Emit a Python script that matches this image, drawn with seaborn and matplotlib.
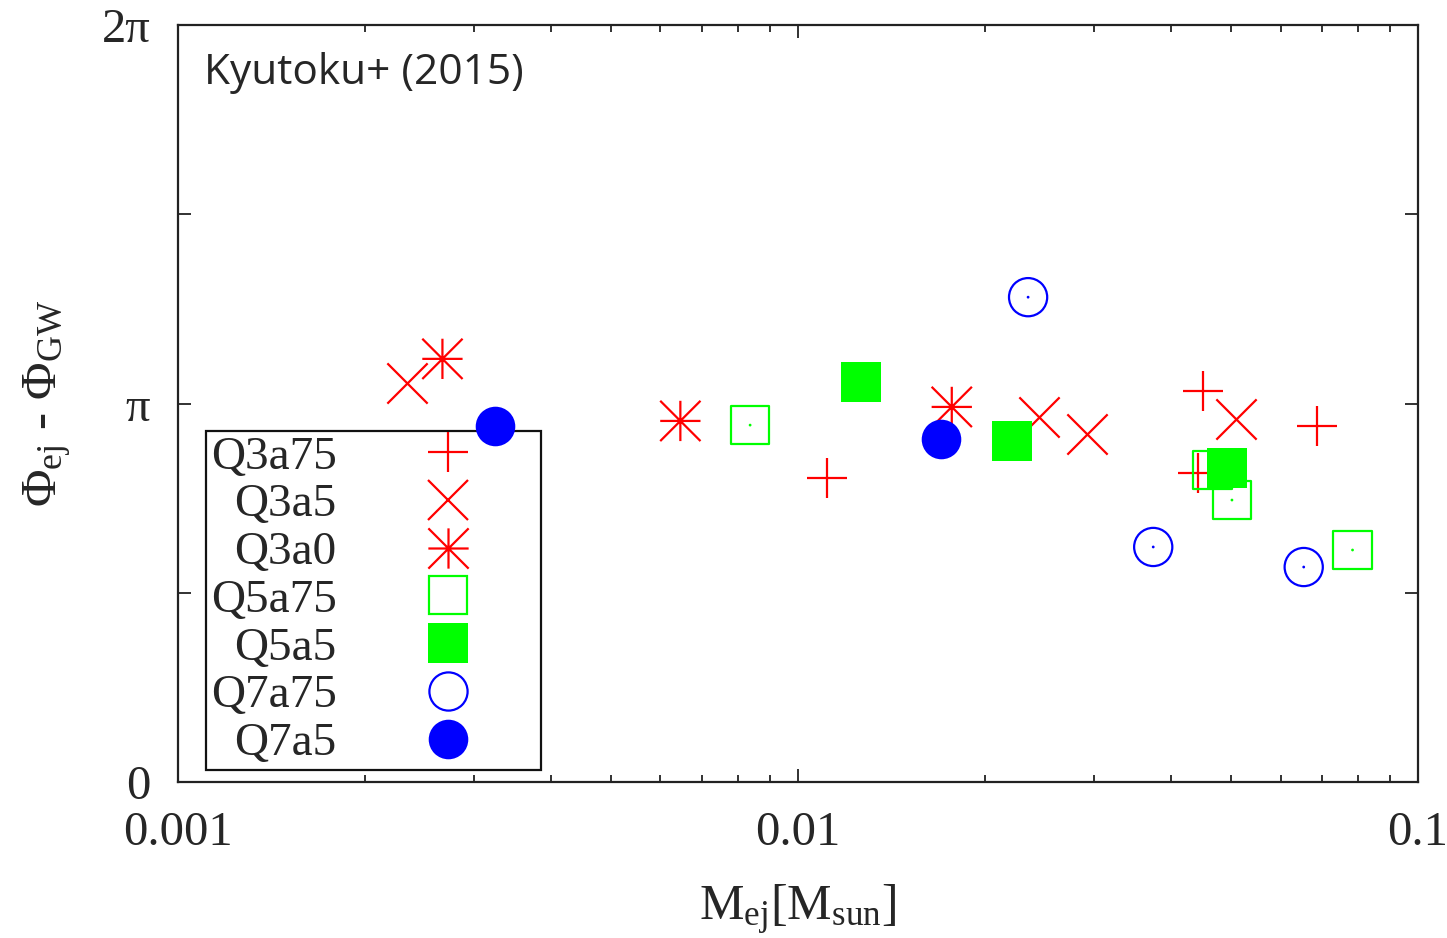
import numpy as np
import pandas as pd
import matplotlib
matplotlib.use("Agg")
import matplotlib.pyplot as plt
from matplotlib.path import Path
from matplotlib.lines import Line2D
from matplotlib.ticker import FixedLocator, LogLocator, NullFormatter, FixedFormatter
import seaborn as sns

# Ejecta mass [M_sun] and phase offset Phi_ej - Phi_GW (in units of pi) per model
q3a75_m = [0.0450, 0.0687, 0.0441, 0.01114]
q3a75_phi = [1.033, 0.941, 0.816, 0.803]
q3a5_m = [0.00234, 0.0508, 0.0245, 0.0292]
q3a5_phi = [1.054, 0.959, 0.964, 0.919]
q3a0_m = [0.00267, 0.00646, 0.0177]
q3a0_phi = [1.118, 0.954, 0.991]
q5a75_m = [0.00837, 0.0466, 0.0501, 0.0784]
q5a75_phi = [0.943, 0.824, 0.745, 0.613]
q5a5_m = [0.01265, 0.0221, 0.0492]
q5a5_phi = [1.057, 0.901, 0.830]
q7a75_m = [0.0235, 0.0374, 0.0654]
q7a75_phi = [1.281, 0.621, 0.568]
q7a5_m = [0.00324, 0.0170]
q7a5_phi = [0.941, 0.906]

labels = ["Q3a75", "Q3a5", "Q3a0", "Q5a75", "Q5a5", "Q7a75", "Q7a5"]
x_ticks = [0.001, 0.01, 0.1]
x_ticklabels = ["0.001", "0.01", "0.1"]
y_ticklabels = ["0", "", "\u03c0", "", "2\u03c0"]

RED, GREEN, BLUE = "#ff0000", "#00ff00", "#0000ff"

# gnuplot-style asterisk: a plus sign overlaid with a cross
asterisk = Path(
    [(-1, 0), (1, 0), (0, -1), (0, 1), (-1, -1), (1, 1), (-1, 1), (1, -1)],
    [Path.MOVETO, Path.LINETO] * 4,
)

frames = []
for name, m, phi in [
    ("Q3a75", q3a75_m, q3a75_phi), ("Q3a5", q3a5_m, q3a5_phi),
    ("Q3a0", q3a0_m, q3a0_phi), ("Q5a75", q5a75_m, q5a75_phi),
    ("Q5a5", q5a5_m, q5a5_phi), ("Q7a75", q7a75_m, q7a75_phi),
    ("Q7a5", q7a5_m, q7a5_phi),
]:
    frames.append(pd.DataFrame({"model": name, "mej": m, "dphi": np.array(phi) * np.pi}))
df = pd.concat(frames, ignore_index=True)

sns.set_style("ticks")
plt.rcParams["font.family"] = ["Liberation Serif", "DejaVu Serif"]
plt.rcParams["mathtext.fontset"] = "custom"
plt.rcParams["mathtext.rm"] = "Liberation Serif"
plt.rcParams["mathtext.it"] = "Liberation Serif:italic"

fig = plt.figure(figsize=(14.47, 9.38), dpi=100)
ax = fig.add_axes([0.123, 0.1663, 0.857, 0.807])

ms_line = 29.0
ms_open = 27.5
ms_fill = 28.5
lw = 1.6

styles = {
    "Q3a75": dict(marker="+", color=RED, s=ms_line ** 2, linewidth=lw),
    "Q3a5": dict(marker="x", color=RED, s=ms_line ** 2, linewidth=lw),
    "Q3a0": dict(marker=asterisk, facecolor="none", edgecolor=RED, s=ms_line ** 2, linewidth=lw),
    "Q5a75": dict(marker="s", facecolor="none", edgecolor=GREEN, s=ms_open ** 2, linewidth=lw),
    "Q5a5": dict(marker="s", color=GREEN, edgecolor=GREEN, s=ms_fill ** 2, linewidth=0),
    "Q7a75": dict(marker="o", facecolor="none", edgecolor=BLUE, s=ms_open ** 2, linewidth=lw),
    "Q7a5": dict(marker="o", color=BLUE, edgecolor=BLUE, s=ms_fill ** 2, linewidth=0),
}
dot_color = {"Q5a75": GREEN, "Q7a75": BLUE}

for name in labels:
    sub = df[df["model"] == name]
    sns.scatterplot(data=sub, x="mej", y="dphi", ax=ax, legend=False, zorder=6, **styles[name])
    if name in dot_color:
        sns.scatterplot(data=sub, x="mej", y="dphi", ax=ax, legend=False, zorder=6,
                        marker="o", color=dot_color[name], edgecolor="none", s=4)

ax.set_xscale("log")
ax.set_xlim(0.001, 0.1)
ax.set_ylim(0, 2 * np.pi)

ax.xaxis.set_major_locator(FixedLocator(x_ticks))
ax.xaxis.set_major_formatter(FixedFormatter(x_ticklabels))
ax.xaxis.set_minor_locator(LogLocator(base=10, subs=np.arange(2, 10)))
ax.xaxis.set_minor_formatter(NullFormatter())
ax.yaxis.set_major_locator(FixedLocator([0, np.pi / 2, np.pi, 3 * np.pi / 2, 2 * np.pi]))
ax.yaxis.set_major_formatter(FixedFormatter(y_ticklabels))

ax.tick_params(which="both", direction="in", top=True, right=True, color="#222222", width=1.3)
ax.tick_params(which="major", length=9.5, labelsize=35)
ax.tick_params(which="minor", length=5)
ax.tick_params(axis="x", pad=21)
ax.tick_params(axis="y", pad=20)
for sp in ax.spines.values():
    sp.set_linewidth(1.6)
    sp.set_color("#222222")

ax.set_xlabel(r"$\mathrm{M_{ej}[M_{sun}]}$", fontsize=36, labelpad=20)
ax.set_ylabel(r"$\mathrm{\Phi_{ej}}$ - $\mathrm{\Phi_{GW}}$", fontsize=37, labelpad=20)

ax.text(0.021, 0.937, "Kyutoku+ (2015)", transform=ax.transAxes, fontsize=30.5,
        family=["Open Sans", "DejaVu Sans"], ha="left", va="center")

handles = []
for name in labels:
    st = styles[name]
    mk = st["marker"]
    if name in ("Q3a75", "Q3a5", "Q3a0"):
        h = Line2D([], [], linestyle="none", marker=mk, markersize=ms_line, markeredgewidth=lw,
                   color=RED, markerfacecolor="none", markeredgecolor=RED)
    elif name == "Q5a75":
        h = Line2D([], [], linestyle="none", marker="s", markersize=ms_open, markeredgewidth=lw,
                   markerfacecolor="none", markeredgecolor=GREEN)
    elif name == "Q5a5":
        h = Line2D([], [], linestyle="none", marker="s", markersize=ms_fill, markeredgewidth=0,
                   markerfacecolor=GREEN)
    elif name == "Q7a75":
        h = Line2D([], [], linestyle="none", marker="o", markersize=ms_open, markeredgewidth=lw,
                   markerfacecolor="none", markeredgecolor=BLUE)
    else:
        h = Line2D([], [], linestyle="none", marker="o", markersize=ms_fill, markeredgewidth=0,
                   markerfacecolor=BLUE)
    handles.append(h)

leg = ax.legend(handles, labels, loc="lower left", bbox_to_anchor=(0.0226, 0.0159),
                borderaxespad=0, markerfirst=False, fontsize=34, frameon=True,
                fancybox=False, framealpha=1, edgecolor="#111111", handlelength=3.73,
                handletextpad=0.49, borderpad=0.1, labelspacing=0.1, numpoints=1)
leg.get_frame().set_linewidth(1.6)
leg.set_zorder(5)

fig.savefig("out.png", dpi=100)
